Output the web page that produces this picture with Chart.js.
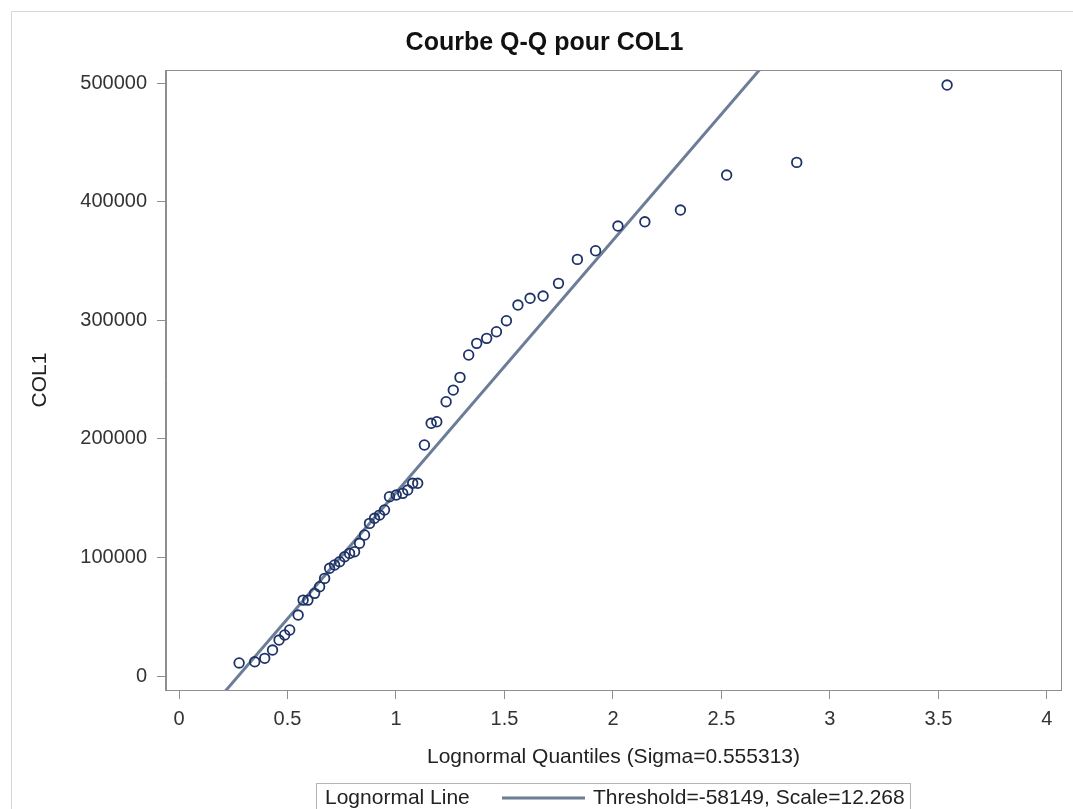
<!DOCTYPE html>
<html>
<head>
<meta charset="utf-8">
<title>Courbe Q-Q pour COL1</title>
<script src="https://cdn.jsdelivr.net/npm/chart.js@4/dist/chart.umd.min.js"></script>
<style>
  html, body { margin: 0; padding: 0; background: #fff; }
  #wrap { position: relative; width: 1073px; height: 809px; }
</style>
</head>
<body>
<div id="wrap"><canvas id="qq" width="1073" height="809"></canvas></div>
<script>
(() => {
  // Lognormal quantiles (x) and sorted COL1 values (y)
  const quantiles = [
    0.277, 0.349, 0.395, 0.431, 0.461, 0.487, 0.510, 0.549, 0.572, 0.594,
    0.625, 0.648, 0.671, 0.694, 0.717, 0.740, 0.763, 0.786, 0.809, 0.832,
    0.855, 0.878, 0.901, 0.924, 0.947, 0.970, 1.001, 1.031, 1.054, 1.077,
    1.100, 1.131, 1.162, 1.188, 1.231, 1.264, 1.295, 1.335, 1.372, 1.418,
    1.463, 1.509, 1.562, 1.618, 1.678, 1.749, 1.836, 1.920, 2.023, 2.147,
    2.311, 2.524, 2.847, 3.540
  ];
  const col1 = [
    11000, 12000, 14900, 21900, 30300, 34600, 38800, 51400, 64000, 64000,
    69700, 75300, 82300, 90800, 93600, 96400, 100600, 103400, 104800, 111900,
    118900, 128700, 133000, 135700, 140000, 151200, 152600, 154000, 156800, 162500,
    162500, 194800, 213100, 214400, 231300, 241100, 251800, 270700, 280500, 284700,
    290300, 299600, 312800, 318500, 320400, 331100, 351300, 358600, 379400, 383000,
    392900, 422400, 433100, 498300
  ];

  // Reference line end points (Threshold=-58149, Scale=12.268)
  const lineX = [0.15, 2.75];
  const lineY = [-26232, 526988];

  const xTicks = [0, 0.5, 1, 1.5, 2, 2.5, 3, 3.5, 4];
  const yTicks = [0, 100000, 200000, 300000, 400000, 500000];

  const TITLE = "Courbe Q-Q pour COL1";
  const X_TITLE = "Lognormal Quantiles (Sigma=0.555313)";
  const Y_TITLE = "COL1";
  const LEGEND_TITLE = "Lognormal Line";
  const LEGEND_TEXT = "Threshold=-58149, Scale=12.268";

  const FONT = "'Liberation Sans', Arial, Helvetica, sans-serif";
  const AXIS_GRAY = "#8e8e8e";
  const LINE_COLOR = "#6c7d97";
  const MARKER_COLOR = "#1d3266";

  Chart.defaults.font.family = FONT;

  // outer light frame (left + top edges only are visible)
  const framePlugin = {
    id: "frame",
    beforeDraw(chart) {
      const ctx = chart.ctx;
      ctx.save();
      ctx.strokeStyle = "#d6d6d6";
      ctx.lineWidth = 1;
      ctx.beginPath();
      ctx.moveTo(11.5, chart.height);
      ctx.lineTo(11.5, 11.5);
      ctx.lineTo(chart.width, 11.5);
      ctx.stroke();
      ctx.restore();
    },
    afterDraw(chart) {
      const { ctx, chartArea: a } = chart;
      ctx.save();
      // box around plot area
      ctx.strokeStyle = AXIS_GRAY;
      ctx.lineWidth = 1;
      ctx.strokeRect(Math.round(a.left) - 0.5, Math.round(a.top) + 0.5,
        Math.round(a.right - a.left) + 1, Math.round(a.bottom - a.top));

      // legend box at the bottom
      ctx.strokeStyle = "#b4b4b4";
      ctx.strokeRect(316.5, 783.5, 594, 40);
      ctx.fillStyle = "#222";
      ctx.font = "21px " + FONT;
      ctx.textBaseline = "middle";
      ctx.textAlign = "left";
      ctx.fillText(LEGEND_TITLE, 325, 798);
      ctx.strokeStyle = LINE_COLOR;
      ctx.lineWidth = 3;
      ctx.beginPath();
      ctx.moveTo(502, 798);
      ctx.lineTo(585, 798);
      ctx.stroke();
      ctx.fillText(LEGEND_TEXT, 593, 798);
      ctx.restore();
    }
  };

  new Chart(document.getElementById("qq"), {
    type: "scatter",
    data: {
      datasets: [
        {
          label: "COL1",
          data: quantiles.map((q, i) => ({ x: q, y: col1[i] })),
          pointStyle: "circle",
          pointRadius: 4.8,
          pointHoverRadius: 4.8,
          pointBorderWidth: 1.8,
          pointBorderColor: MARKER_COLOR,
          pointBackgroundColor: "rgba(0,0,0,0)",
          order: 0,
        },
        {
          type: "line",
          label: LEGEND_TITLE,
          data: lineX.map((x, i) => ({ x, y: lineY[i] })),
          borderColor: LINE_COLOR,
          borderWidth: 3,
          pointRadius: 0,
          fill: false,
          order: 1,
        },
      ],
    },
    options: {
      responsive: false,
      animation: false,
      devicePixelRatio: 1,
      layout: { padding: { left: 28, right: 12, top: 0, bottom: 39 } },
      plugins: {
        legend: { display: false },
        tooltip: { enabled: false },
        title: {
          display: true,
          text: TITLE,
          color: "#111",
          font: { size: 25, weight: "bold", family: FONT },
          padding: { top: 28, bottom: 12 },
        },
      },
      scales: {
        x: {
          type: "linear",
          min: -0.06,
          max: 4.065,
          afterFit: (s) => { s.height = 80; },
          afterBuildTicks: (s) => { s.ticks = xTicks.map(v => ({ value: v })); },
          ticks: {
            color: "#333",
            font: { size: 20 },
            padding: 8,
            maxRotation: 0,
            callback: (v) => String(v),
          },
          grid: { display: true, drawOnChartArea: false, drawTicks: true, tickLength: 9, color: AXIS_GRAY },
          border: { display: true, color: AXIS_GRAY },
          title: {
            display: true,
            text: X_TITLE,
            color: "#222",
            font: { size: 21 },
            padding: { top: 0, bottom: 0 },
          },
        },
        y: {
          type: "linear",
          min: -11800,
          max: 511000,
          afterFit: (s) => { s.width = 138; },
          afterBuildTicks: (s) => { s.ticks = yTicks.map(v => ({ value: v })); },
          ticks: {
            color: "#333",
            font: { size: 20 },
            padding: 10,
            callback: (v) => String(v),
          },
          grid: { display: true, drawOnChartArea: false, drawTicks: true, tickLength: 9, color: AXIS_GRAY },
          border: { display: true, color: AXIS_GRAY },
          title: {
            display: true,
            text: Y_TITLE,
            color: "#222",
            font: { size: 21 },
            padding: { top: 0, bottom: 0 },
          },
        },
      },
    },
    plugins: [framePlugin],
  });
})();
</script>
</body>
</html>
